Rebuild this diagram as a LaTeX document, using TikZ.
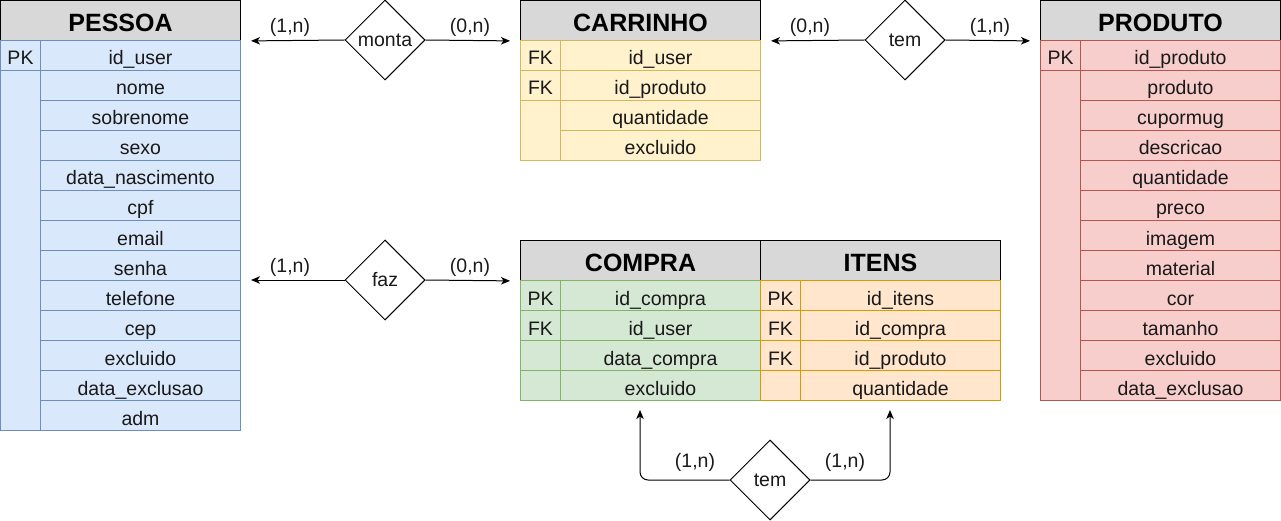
\documentclass[tikz,border=0pt]{standalone}
\usepackage{fontspec}
\setmainfont{Liberation Sans}
\usetikzlibrary{shapes.geometric,arrows.meta}

\definecolor{headGray}{HTML}{D8D8D8}
\definecolor{pessoaFill}{HTML}{DAE8FC}
\definecolor{pessoaLine}{HTML}{6C8EBF}
\definecolor{carrinhoFill}{HTML}{FFF2CC}
\definecolor{carrinhoLine}{HTML}{D6B656}
\definecolor{produtoFill}{HTML}{F8CECC}
\definecolor{produtoLine}{HTML}{B85450}
\definecolor{compraFill}{HTML}{D5E8D4}
\definecolor{compraLine}{HTML}{82B366}
\definecolor{itensFill}{HTML}{FFE6CC}
\definecolor{itensLine}{HTML}{D79B00}

\tikzset{
  header/.style={draw=black, fill=headGray, anchor=north west, inner sep=0pt,
    minimum width=240pt, minimum height=40pt, text height=22pt, text depth=0pt,
    font=\fontsize{25}{28}\selectfont\bfseries},
  keycell/.style={anchor=north west, inner sep=0pt, minimum width=40pt,
    minimum height=30pt, text height=19pt, text depth=0pt,
    font=\fontsize{19.5}{22}\selectfont, text=black!90},
  field/.style={anchor=north west, inner sep=0pt, minimum width=200pt,
    minimum height=30pt, text height=19pt, text depth=0pt,
    font=\fontsize{19.5}{22}\selectfont, text=black!90},
  rel/.style={diamond, draw, fill=white, inner sep=0pt, minimum width=80pt,
    minimum height=80pt, font=\fontsize{19.5}{22}\selectfont, text=black!90},
  card/.style={font=\fontsize{19.5}{22}\selectfont, text=black!90},
  arr/.style={-{Stealth[length=9pt,width=7.5pt,inset=2.5pt]}, shorten >=10pt},
}

\begin{document}
\begin{tikzpicture}[x=1pt, y=-1pt, line width=1pt]
    \useasboundingbox (0,0) rectangle (1281,521);

    % PESSOA
    \node[header] (pessoa) at (0,0) {PESSOA};
    \node[keycell, draw=pessoaLine, fill=pessoaFill] (pessoaK1) at (0,40) {PK};
    \node[field, draw=pessoaLine, fill=pessoaFill] (pessoaF1) at (40,40) {id\_user};
    \node[keycell, draw=pessoaLine, fill=pessoaFill, minimum height=360pt] (pessoaK2) at (0,70) {};
    \foreach \f [count=\i] in {nome, sobrenome, sexo, data\_nascimento, cpf, email,
        senha, telefone, cep, excluido, data\_exclusao, adm}
      \node[field, draw=pessoaLine, fill=pessoaFill] (pessoaF\i x) at (40,40+30*\i) {\f};

    % CARRINHO
    \node[header] (carrinho) at (520,0) {CARRINHO};
    \foreach \k/\f [count=\i] in {FK/id\_user, FK/id\_produto} {
      \node[keycell, draw=carrinhoLine, fill=carrinhoFill] (carrinhoK\i) at (520,10+30*\i) {\k};
      \node[field, draw=carrinhoLine, fill=carrinhoFill] (carrinhoF\i) at (560,10+30*\i) {\f};
    }
    \node[keycell, draw=carrinhoLine, fill=carrinhoFill, minimum height=60pt] (carrinhoK3) at (520,100) {};
    \node[field, draw=carrinhoLine, fill=carrinhoFill] (carrinhoF3) at (560,100) {quantidade};
    \node[field, draw=carrinhoLine, fill=carrinhoFill] (carrinhoF4) at (560,130) {excluido};

    % PRODUTO
    \node[header] (produto) at (1040,0) {PRODUTO};
    \node[keycell, draw=produtoLine, fill=produtoFill] (produtoK1) at (1040,40) {PK};
    \node[field, draw=produtoLine, fill=produtoFill] (produtoF1) at (1080,40) {id\_produto};
    \node[keycell, draw=produtoLine, fill=produtoFill, minimum height=330pt] (produtoK2) at (1040,70) {};
    \foreach \f [count=\i] in {produto, cupormug, descricao, quantidade, preco, imagem,
        material, cor, tamanho, excluido, data\_exclusao}
      \node[field, draw=produtoLine, fill=produtoFill] (produtoF\i x) at (1080,40+30*\i) {\f};

    % COMPRA
    \node[header] (compra) at (520,240) {COMPRA};
    \foreach \k/\f [count=\i] in {PK/id\_compra, FK/id\_user, /data\_compra, /excluido} {
      \node[keycell, draw=compraLine, fill=compraFill] (compraK\i) at (520,250+30*\i) {\k};
      \node[field, draw=compraLine, fill=compraFill] (compraF\i) at (560,250+30*\i) {\f};
    }

    % ITENS
    \node[header] (itens) at (760,240) {ITENS};
    \foreach \k/\f [count=\i] in {PK/id\_itens, FK/id\_compra, FK/id\_produto, /quantidade} {
      \node[keycell, draw=itensLine, fill=itensFill] (itensK\i) at (760,250+30*\i) {\k};
      \node[field, draw=itensLine, fill=itensFill] (itensF\i) at (800,250+30*\i) {\f};
    }

    % Relationships
    \node[rel] (monta) at (385,40) {monta};
    \node[rel] (temCP) at (905,40) {tem};
    \node[rel] (faz) at (385,280) {faz};
    \node[rel] (temCI) at (770,480) {tem};

    % Connectors
    \coordinate (compraBot) at (640,400);
    \coordinate (itensBot) at (890,400);
    \draw[arr] (monta.west) -- (pessoa.south east);
    \draw[arr] (monta.east) -- (carrinho.south west);
    \draw[arr] (temCP.west) -- (carrinho.south east);
    \draw[arr] (temCP.east) -- (produto.south west);
    \draw[arr] (faz.west) -- (pessoa.east |- faz);
    \draw[arr] (faz.east) -- (compra.south west);
    \draw[arr, rounded corners=8pt] (temCI.west) -| (compraBot);
    \draw[arr, rounded corners=8pt] (temCI.east) -| (itensBot);

    % Cardinalities
    \node[card] (cMontaP) at (290,27) {(1,n)};
    \node[card] (cMontaC) at (470,27) {(0,n)};
    \node[card] (cTemC) at (810,27) {(0,n)};
    \node[card] (cTemP) at (990,27) {(1,n)};
    \node[card] (cFazP) at (290,267) {(1,n)};
    \node[card] (cFazC) at (470,267) {(0,n)};
    \node[card] (cTemCo) at (695,462) {(1,n)};
    \node[card] (cTemI) at (845,462) {(1,n)};
\end{tikzpicture}
\end{document}
